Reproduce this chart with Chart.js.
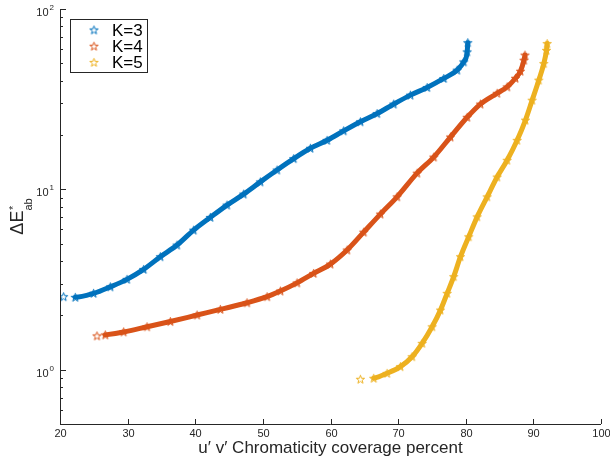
<!DOCTYPE html>
<html>
<head>
<meta charset="utf-8">
<script src="https://cdn.jsdelivr.net/npm/chart.js@4.4.1/dist/chart.umd.min.js"></script>
<style>
  html, body { margin: 0; padding: 0; background: #fff; }
  canvas { display: block; }
</style>
</head>
<body>
<canvas id="myChart" width="610" height="458"></canvas>
<script>
// number of clusters K
const seriesLabels = ['K=3', 'K=4', 'K=5']

// u'v' chromaticity coverage (%) and mean Delta E*ab for each K
const coverageK3 = [20.53, 22.26, 24.97, 27.44, 29.91, 32.37, 34.84, 37.31, 39.76, 42.23, 44.70, 47.16, 49.63, 52.10,
	54.56, 57.03, 59.50, 61.95, 64.42, 66.89, 69.35, 71.82, 74.29, 76.75, 78.73, 79.70, 80.21, 80.30]
const deltaEK3 = [2.54, 2.52, 2.65, 2.88, 3.17, 3.60, 4.23, 4.91, 5.94, 6.99, 8.18, 9.41, 11.0, 12.8,
	14.8, 16.9, 18.7, 21.1, 23.7, 26.3, 29.7, 33.3, 36.7, 41.2, 45.8, 50.9, 57.8, 65.0]

const coverageK4 = [25.47, 26.70, 29.41, 32.87, 36.32, 40.27, 43.71, 47.66, 50.62, 52.59, 55.06, 57.51, 59.99, 62.46,
	64.91, 67.38, 69.85, 72.81, 75.27, 77.74, 80.21, 82.17, 84.64, 86.12, 87.35, 88.09, 88.61, 88.76]
const deltaEK4 = [1.54, 1.56, 1.62, 1.73, 1.85, 2.01, 2.16, 2.35, 2.54, 2.73, 3.03, 3.42, 3.85, 4.61,
	5.79, 7.29, 9.09, 12.3, 15.1, 19.5, 25.1, 29.7, 34.1, 37.0, 41.3, 45.2, 52.0, 55.5]

const coverageK5 = [64.42, 66.39, 68.37, 70.34, 72.07, 73.55, 75.03, 76.26, 77.25, 78.22, 79.22, 80.44, 81.69, 83.17,
	84.64, 86.12, 87.60, 88.83, 89.82, 90.80, 91.54, 91.94, 92.04]
const deltaEK5 = [0.885, 0.896, 0.955, 1.04, 1.18, 1.40, 1.73, 2.14, 2.65, 3.28, 4.23, 5.46, 7.04, 9.09,
	11.7, 14.5, 18.7, 24.2, 31.2, 40.3, 49.8, 59.0, 64.3]

const xTicks = [20, 30, 40, 50, 60, 70, 80, 90, 100]
const yMajorTicks = [1, 10, 100]
const yTickExponents = ['0', '1', '2']

const axisColor = '#262626'
const colors = ['#0072bd', '#d95319', '#edb120']
const fontFamily = '"Liberation Sans", Arial, Helvetica, sans-serif'

// pentagram marker like matlab's 'p'
function pentagram(color) {
	const c = document.createElement('canvas')
	c.width = 11
	c.height = 11
	const g = c.getContext('2d')
	g.strokeStyle = color
	g.lineWidth = 1
	g.lineJoin = 'miter'
	g.beginPath()
	for (let i = 0; i < 10; i++) {
		const r = i % 2 === 0 ? 4.4 : 1.8
		const a = -Math.PI / 2 + i * Math.PI / 5
		g.lineTo(5.5 + r * Math.cos(a), 5.8 + r * Math.sin(a))
	}
	g.closePath()
	g.stroke()
	return c
}

function toPoints(xs, ys) {
	return xs.map((x, i) => ({ x, y: ys[i] }))
}

const seriesData = [
	toPoints(coverageK3, deltaEK3),
	toPoints(coverageK4, deltaEK4),
	toPoints(coverageK5, deltaEK5)
]

const markers = colors.map(pentagram)

const datasets = seriesData.map((data, i) => ({
	label: seriesLabels[i],
	data,
	showLine: true,
	borderColor: colors[i],
	backgroundColor: colors[i],
	borderWidth: 5,
	borderCapStyle: 'round',
	cubicInterpolationMode: 'monotone',
	pointStyle: markers[i],
	pointRadius: 4,
	// first marker sits apart from the rest of the run
	segment: {
		borderColor: ctx => ctx.p0DataIndex === 0 ? 'rgba(0,0,0,0)' : undefined
	}
}))

const axesPlugin = {
	id: 'matlabAxes',
	afterDatasetsDraw(chart) {
		const ctx = chart.ctx
		const area = chart.chartArea
		const xs = chart.scales.x
		const ys = chart.scales.y

		ctx.save()
		ctx.strokeStyle = axisColor
		ctx.fillStyle = axisColor
		ctx.lineWidth = 1

		// axis lines
		ctx.beginPath()
		ctx.moveTo(area.left + 0.5, area.top)
		ctx.lineTo(area.left + 0.5, area.bottom + 0.5)
		ctx.lineTo(area.right, area.bottom + 0.5)
		ctx.stroke()

		// x ticks point inward
		ctx.font = '11px ' + fontFamily
		ctx.textAlign = 'center'
		ctx.textBaseline = 'alphabetic'
		for (const v of xTicks) {
			const px = Math.round(xs.getPixelForValue(v)) + 0.5
			ctx.beginPath()
			ctx.moveTo(px, area.bottom)
			ctx.lineTo(px, area.bottom - 5)
			ctx.stroke()
			ctx.fillText(String(v), px, area.bottom + 13)
		}

		// y minor + major ticks
		for (let decade = 0.1; decade < 100; decade *= 10) {
			for (let m = 1; m <= 9; m++) {
				const v = +(decade * m).toPrecision(3)
				if (v < ys.min || v > ys.max) continue
				const py = Math.round(ys.getPixelForValue(v)) + 0.5
				ctx.beginPath()
				ctx.moveTo(area.left, py)
				ctx.lineTo(area.left + 3, py)
				ctx.stroke()
			}
		}
		yMajorTicks.forEach((v, i) => {
			const py = Math.round(ys.getPixelForValue(v)) + 0.5
			ctx.beginPath()
			ctx.moveTo(area.left, py)
			ctx.lineTo(area.left + 6, py)
			ctx.stroke()

			ctx.font = '11px ' + fontFamily
			ctx.textAlign = 'right'
			ctx.fillText('10', area.left - 11.5, py + 6)
			ctx.font = '8px ' + fontFamily
			ctx.textAlign = 'left'
			ctx.fillText(yTickExponents[i], area.left - 10.5, py + 0.5)
		})

		// x axis title
		ctx.font = '17px ' + fontFamily
		ctx.textAlign = 'center'
		ctx.fillText('u\u2032 v\u2032 Chromaticity coverage percent', (area.left + area.right) / 2, 453)

		// y axis title: ΔE*ab, rotated
		ctx.save()
		ctx.translate(23, (area.top + area.bottom) / 2)
		ctx.rotate(-Math.PI / 2)
		ctx.font = '18px ' + fontFamily
		const main = '\u0394E'
		const wMain = ctx.measureText(main).width
		ctx.font = '11px ' + fontFamily
		const wSub = ctx.measureText('ab').width
		const total = wMain + wSub
		let x0 = -total / 2
		ctx.font = '18px ' + fontFamily
		ctx.textAlign = 'left'
		ctx.fillText(main, x0, 0)
		ctx.font = '11px ' + fontFamily
		ctx.fillText('*', x0 + wMain + 0.5, -6)
		ctx.fillText('ab', x0 + wMain, 9)
		ctx.restore()

		// legend box, upper left inside the axes
		const lx = 70.5, ly = 19.5, lw = 77, lh = 53
		ctx.fillStyle = '#fff'
		ctx.fillRect(lx, ly, lw, lh)
		ctx.strokeRect(lx, ly, lw, lh)
		ctx.font = '17px ' + fontFamily
		ctx.textAlign = 'left'
		ctx.textBaseline = 'middle'
		chart.data.datasets.forEach((ds, i) => {
			const cy = 30 + i * 16.2
			const img = ds.pointStyle
			ctx.drawImage(img, 94 - img.width / 2, cy - img.height / 2)
			ctx.fillStyle = '#000'
			ctx.fillText(ds.label, 112, cy + 1)
		})

		ctx.restore()
	}
}

new Chart(document.getElementById('myChart'), {
	type: 'scatter',
	data: { datasets },
	options: {
		responsive: false,
		animation: false,
		devicePixelRatio: 1,
		layout: {
			padding: { left: 60, right: 9, top: 8, bottom: 34 }
		},
		plugins: {
			legend: { display: false },
			tooltip: { enabled: false }
		},
		scales: {
			x: { type: 'linear', min: 20, max: 100, display: false },
			y: { type: 'logarithmic', min: 0.5, max: 100, display: false }
		}
	},
	plugins: [axesPlugin]
})
</script>
</body>
</html>
